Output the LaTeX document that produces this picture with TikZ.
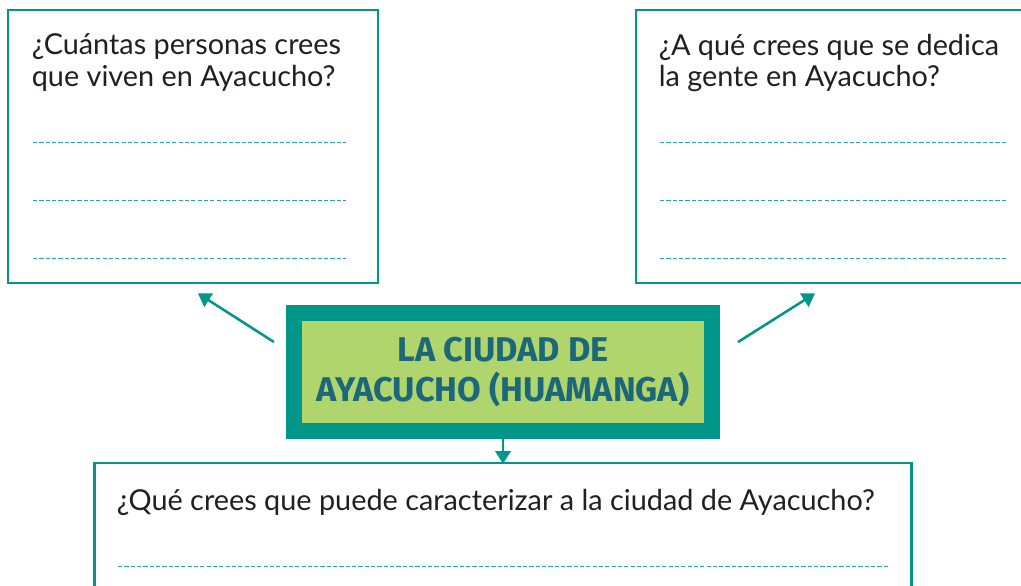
\documentclass[tikz,border=0pt]{standalone}
\usepackage{fontspec}
\setmainfont{Lato}
\newfontfamily\titlefont{Fira Sans}
\usepackage{tikz}
\usetikzlibrary{positioning,calc,arrows.meta}

\definecolor{boxteal}{RGB}{0,150,137}
\definecolor{dashteal}{RGB}{40,168,168}
\definecolor{titlegreen}{RGB}{176,213,109}
\definecolor{titleblue}{RGB}{28,104,122}
\definecolor{inkblack}{RGB}{35,31,32}

\begin{document}
\begin{tikzpicture}[
    x=0.025cm, y=-0.025cm,
    question/.style={rectangle, draw=boxteal, line width=2pt, fill=white},
    qtext/.style={anchor=north west, inner sep=0pt, align=left, text=inkblack, font=\fontsize{20.5}{22.7}\selectfont},
    title/.style={rectangle, draw=boxteal, line width=0.4cm, fill=titlegreen, minimum width=10.45cm, minimum height=2.95cm, align=center, text=titleblue, font=\titlefont\bfseries\fontsize{24.4}{28.4}\selectfont},
    answer/.style={draw=dashteal, line width=0.6pt, dash pattern=on 3pt off 1.5pt},
    link/.style={draw=boxteal, line width=1.8pt, -{Triangle[length=9pt,width=11pt]}}
]
    \useasboundingbox (0,0) rectangle (1021,586);
    \clip (0,0) rectangle (1021,586);

    % question boxes
    \node[question, minimum width=9.25cm, minimum height=6.825cm] (q1) at (193,146.5) {};
    \node[question, minimum width=10.1cm, minimum height=6.825cm] (q2) at (838,146.5) {};
    \node[question, minimum width=20.4cm, minimum height=3.425cm] (q3) at (503,531.5) {};

    \node[qtext] (t1) at ([shift={(25,25)}]q1.north west) {¿Cuántas personas crees\\que viven en Ayacucho?};
    \node[qtext] (t2) at ([shift={(24,25)}]q2.north west) {¿A qué crees que se dedica\\la gente en Ayacucho?};
    \node[qtext] (t3) at ([shift={(23,27)}]q3.north west) {¿Qué crees que puede caracterizar a la ciudad de Ayacucho?};

    % lines to write on
    \foreach \y in {142,200,258} {
        \draw[answer] (33,\y) -- (346,\y);
        \draw[answer] (660,\y) -- (1007,\y);
    }
    \draw[answer] (118,566) -- (888,566);

    % central title
    \node[title] (city) at (503,372) {LA CIUDAD DE\\AYACUCHO (HUAMANGA)};

    \draw[link] ([shift={(-12,-30)}]city.west) -- ([shift={(5,9)}]q1.south);
    \draw[link] ([shift={(18,-30)}]city.east) -- ([shift={(-23,9)}]q2.south);
    \draw[link] (city.south) -- ([yshift=-1.5pt]q3.north);
\end{tikzpicture}
\end{document}
